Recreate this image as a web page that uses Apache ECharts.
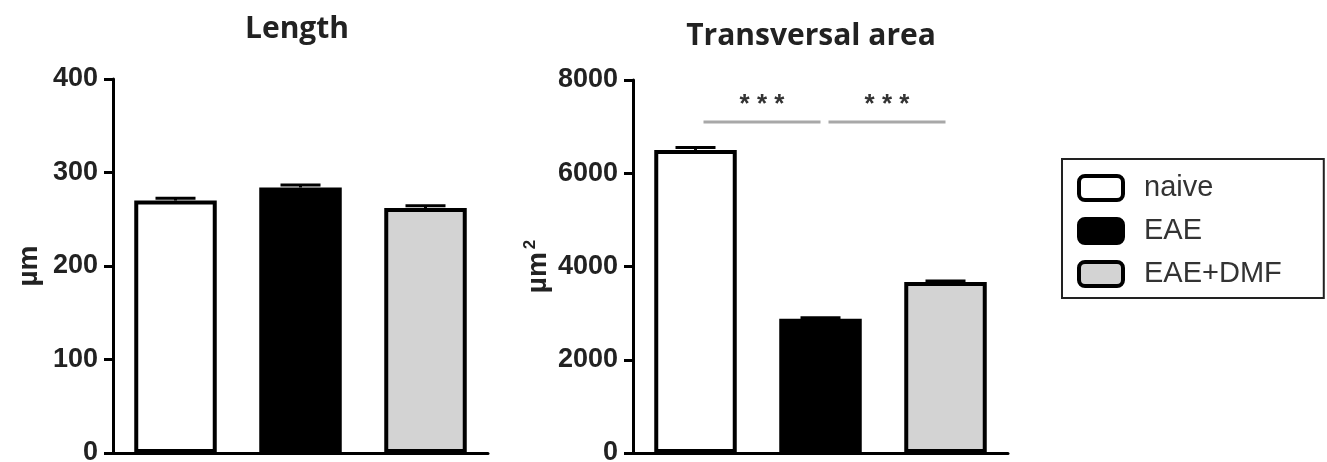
<!DOCTYPE html>
<html>
<head>
<meta charset="utf-8">
<script src="https://cdn.jsdelivr.net/npm/echarts@6/dist/echarts.min.js"></script>
<style>html,body{margin:0;padding:0;background:#fff;}#c{width:1327px;height:462px;}</style>
</head>
<body>
<div id="c"></div>
<script>
// ---- data ----
var groups = ['naive', 'EAE', 'EAE+DMF'];
var groupColors = ['#ffffff', '#000000', '#d3d3d3'];
var lengthValues = [270, 284, 262];
var lengthSem = [2.5, 2.5, 2.5];
var areaValues = [6500, 2880, 3670];
var areaSem = [50, 20, 20];
var lengthTicks = [0, 100, 200, 300, 400];
var areaTicks = [0, 2000, 4000, 6000, 8000];
var sigPairs = [[0, 1, '* * *'], [1, 2, '* * *']];
var sigLevel = 7100;

var FONT = '"Liberation Sans", Arial, sans-serif';
var chart = echarts.init(document.getElementById('c'), null, {renderer: 'canvas'});

function barSeries(values, axisIdx) {
  return groups.map(function (g, i) {
    return {
      name: g,
      type: 'bar',
      xAxisIndex: axisIdx, yAxisIndex: axisIdx,
      barWidth: '66%',
      barGap: '-100%',
      itemStyle: {color: groupColors[i], borderColor: '#000', borderWidth: 4},
      data: values.map(function (v, j) { return j === i ? v : '-'; }),
      z: 2
    };
  });
}

function errSeries(values, sem, axisIdx) {
  return {
    type: 'custom',
    xAxisIndex: axisIdx, yAxisIndex: axisIdx,
    z: 5,
    data: values.map(function (v, i) { return [i, v, sem[i]]; }),
    renderItem: function (params, api) {
      var x = api.value(0), y = api.value(1), e = api.value(2);
      var p0 = api.coord([x, y]);
      var p1 = api.coord([x, y + e]);
      var hw = api.size([1, 0])[0] * 0.16;
      return {
        type: 'group',
        children: [
          {type: 'line', shape: {x1: p0[0], y1: p0[1], x2: p1[0], y2: p1[1]}, style: {stroke: '#000', lineWidth: 3}},
          {type: 'line', shape: {x1: p1[0] - hw, y1: p1[1], x2: p1[0] + hw, y2: p1[1]}, style: {stroke: '#000', lineWidth: 3}}
        ]
      };
    }
  };
}

var sigSeries = {
  type: 'custom',
  xAxisIndex: 1, yAxisIndex: 1,
  z: 5,
  data: sigPairs.map(function (p) { return [p[0], p[1], sigLevel]; }),
  renderItem: function (params, api) {
    var a = api.coord([api.value(0), api.value(2)]);
    var b = api.coord([api.value(1), api.value(2)]);
    var x1 = a[0] + 8, x2 = b[0];
    var label = sigPairs[params.dataIndex][2];
    return {
      type: 'group',
      children: [
        {type: 'line', shape: {x1: x1, y1: a[1], x2: x2, y2: a[1]}, style: {stroke: '#a8a8a8', lineWidth: 3}},
        {type: 'text', style: {text: label, x: (x1 + x2) / 2, y: a[1] - 17, align: 'center', verticalAlign: 'middle',
          font: 'bold 26px ' + FONT, fill: '#333'}}
      ]
    };
  }
};

function yAxisCfg(ticks, gridIdx, name, nameGap) {
  return {
    type: 'value', gridIndex: gridIdx,
    min: ticks[0], max: ticks[ticks.length - 1], interval: ticks[1] - ticks[0],
    splitLine: {show: false},
    axisLine: {show: true, lineStyle: {color: '#000', width: 3}},
    axisTick: {show: true, length: 9, lineStyle: {color: '#000', width: 3}},
    axisLabel: {color: '#222', fontSize: 27, fontWeight: 'bold', fontFamily: FONT, margin: 15,
      formatter: function (v) { return String(v); }},
    name: name, nameLocation: 'middle', nameGap: nameGap, nameRotate: 90,
    nameTextStyle: {color: '#222', fontSize: 28, fontWeight: 'bold', fontFamily: FONT,
      rich: {u: {fontSize: 28, fontWeight: 'bold', color: '#222', fontFamily: FONT},
             s: {fontSize: 17, fontWeight: 'bold', color: '#222', fontFamily: FONT, padding: [0, 0, 16, 3]}}}
  };
}

function xAxisCfg(gridIdx) {
  return {
    type: 'category', gridIndex: gridIdx, data: groups,
    axisLine: {show: true, lineStyle: {color: '#000', width: 3}},
    axisTick: {show: false},
    axisLabel: {show: false}
  };
}

var option = {
  animation: false,
  backgroundColor: '#fff',
  title: [
    {text: 'Length', left: 292, top: 9, textAlign: 'center',
     textStyle: {fontFamily: '"Open Sans", sans-serif', fontWeight: 'bold', fontSize: 30, color: '#222'}},
    {text: 'Transversal area', left: 806, top: 16, textAlign: 'center',
     textStyle: {fontFamily: '"Open Sans", sans-serif', fontWeight: 'bold', fontSize: 30, color: '#222'}}
  ],
  grid: [
    {left: 113, top: 79, width: 375, height: 374, outerBoundsMode: 'none', containLabel: false},
    {left: 633, top: 80, width: 375, height: 373, outerBoundsMode: 'none', containLabel: false}
  ],
  xAxis: [xAxisCfg(0), xAxisCfg(1)],
  yAxis: [
    yAxisCfg(lengthTicks, 0, 'µm', 70),
    yAxisCfg(areaTicks, 1, '{u|µm}{s|2}', 78)
  ],
  legend: {
    orient: 'vertical', left: 1062, top: 159,
    data: groups,
    icon: 'roundRect',
    itemWidth: 44, itemHeight: 24, itemGap: 11,
    padding: [13, 42, 8, 15],
    borderColor: '#222', borderWidth: 2,
    textStyle: {fontSize: 29, color: '#333', fontFamily: FONT, lineHeight: 32, padding: [0, 0, 0, 16]},
    itemStyle: {borderColor: '#000', borderWidth: 4}
  },
  series: [].concat(
    barSeries(lengthValues, 0),
    barSeries(areaValues, 1),
    [errSeries(lengthValues, lengthSem, 0), errSeries(areaValues, areaSem, 1), sigSeries]
  )
};
chart.setOption(option);
</script>
</body>
</html>
